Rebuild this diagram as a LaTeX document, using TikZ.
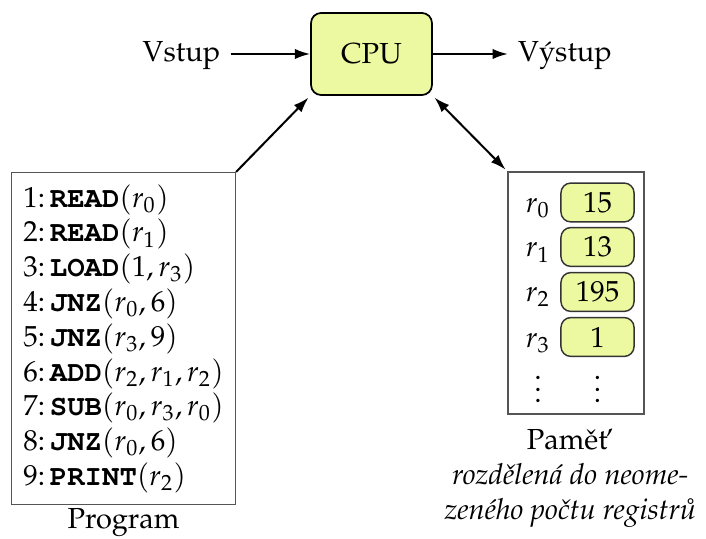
\documentclass[tikz,border=0pt]{standalone}
\usepackage[T1]{fontenc}
\usepackage{mathpazo}
\usepackage{courier}
\usetikzlibrary{arrows.meta}
\definecolor{cpuyellow}{RGB}{236,249,160}
\definecolor{boxgray}{RGB}{85,85,85}
\newcommand{\opc}[1]{\texttt{\bfseries #1}}
\begin{document}
\begin{tikzpicture}[x=0.3448pt,y=-0.3448pt,
  arr/.style={-{Latex[length=5.3pt,width=3.6pt]}, line width=0.7pt},
  darr/.style={{Latex[length=5.3pt,width=3.6pt]}-{Latex[length=5.3pt,width=3.6pt]}, line width=0.7pt},
  cpubox/.style={draw, line width=0.6pt, rounded corners=3.5pt, fill=cpuyellow,
    minimum width=41.7pt, minimum height=28.3pt},
  cell/.style={draw=black!80, line width=0.5pt, rounded corners=3.4pt, fill=cpuyellow,
    minimum width=25.2pt, minimum height=13.4pt, inner sep=1pt},
  plainbox/.style={draw=boxgray, line width=0.5pt},
]
\useasboundingbox (0,0) rectangle (706,539);

\node[cpubox] (cpu) at (371.5,54) {CPU};
\node[anchor=base] (in) at (181.5,62) {Vstup};
\node[anchor=base] (out) at (565,62) {V\'ystup};
\draw[arr] (in.east |- cpu.west) -- (cpu.west);
\draw[arr] (cpu.east) -- (cpu.east -| out.west);

\node[plainbox, anchor=north west, align=left,
  inner xsep=4pt, inner ysep=4pt, minimum width=76.9pt, minimum height=113.8pt] (prog) at (11,172)
  {1:\,\opc{READ}$(r_0)$\\
   2:\,\opc{READ}$(r_1)$\\
   3:\,\opc{LOAD}$(1,r_3)$\\
   4:\,\opc{JNZ}$(r_0,6)$\\
   5:\,\opc{JNZ}$(r_3,9)$\\
   6:\,\opc{ADD}$(r_2,r_1,r_2)$\\
   7:\,\opc{SUB}$(r_0,r_3,r_0)$\\
   8:\,\opc{JNZ}$(r_0,6)$\\
   9:\,\opc{PRINT}$(r_2)$};
\node[anchor=north, inner sep=1pt] (progcap) at (prog.south) {Program};

\node[plainbox, minimum width=46.9pt, minimum height=83.4pt] (mem) at (576,293) {};
\node[cell] (c0) at (597.5,202.5) {15};
\node[cell] (c1) at (597.5,247) {13};
\node[cell] (c2) at (597.5,292) {195};
\node[cell] (c3) at (597.5,337) {1};
\path (c0.base) ++(-59.5,0) node[anchor=base] (l0) {$r_0$};
\path (c1.base) ++(-59.5,0) node[anchor=base] (l1) {$r_1$};
\path (c2.base) ++(-59.5,0) node[anchor=base] (l2) {$r_2$};
\path (c3.base) ++(-59.5,0) node[anchor=base] (l3) {$r_3$};
\node[inner sep=0pt] (d1) at (538,381) {$\vdots$};
\node[inner sep=0pt] (d2) at (597.5,381) {$\vdots$};
\node[anchor=north, align=center, inner sep=5pt] (memcap) at ([xshift=-2pt]mem.south)
  {Pam\v{e}\v{t}\\
   \textit{rozd\v{e}len\'a do neome-}\\
   \textit{zen\'eho po\v{c}tu registr\r{u}}};

\draw[arr, shorten >=0.8pt] (prog.north east) -- (cpu.south west);
\draw[darr, shorten >=0.8pt, shorten <=0.8pt] (cpu.south east) -- (mem.north west);
\end{tikzpicture}
\end{document}
